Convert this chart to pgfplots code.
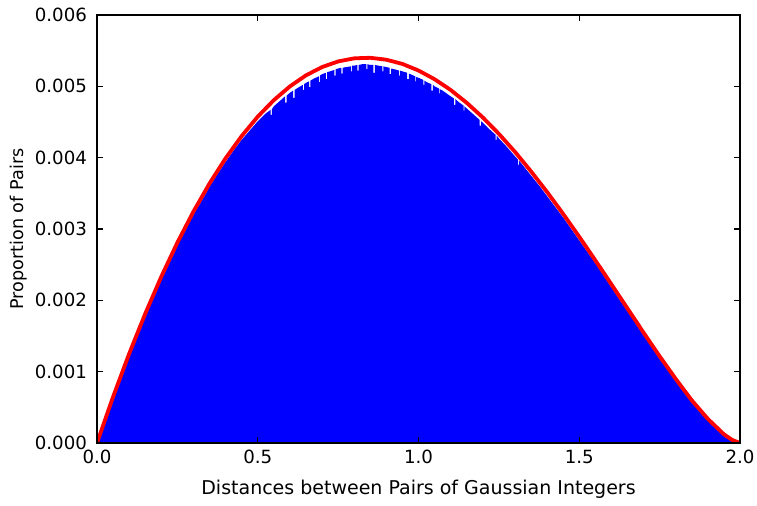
\documentclass[border=0pt]{standalone}
\usepackage{fontspec}
\setmainfont{DejaVu Sans}
\usepackage{pgfplots}
\pgfplotsset{compat=1.18}
\begin{document}
\begin{tikzpicture}
\begin{axis}[
  scale only axis, width=321.5pt, height=214pt,
  at={(0,0)}, anchor=south west,
  xmin=0, xmax=2, ymin=0, ymax=6,
  xtick={0,0.5,1,1.5,2}, xticklabels={0.0,0.5,1.0,1.5,2.0},
  ytick={0,1,2,3,4,5,6}, yticklabels={0.000,0.001,0.002,0.003,0.004,0.005,0.006},
  xtick pos=both, ytick pos=both, tick align=inside,
  major tick length=2.8pt,
  axis line style={line width=0.7pt, black},
  every tick/.style={line width=0.7pt, black},
  axis on top,
  tick label style={font=\fontsize{9.1}{10}\selectfont},
  yticklabel style={xshift=-1.5pt},
  label style={font=\fontsize{9.5}{11}\selectfont},
  xlabel style={yshift=-1pt},
  ylabel style={font=\fontsize{8.8}{10}\selectfont, at={(axis description cs:0,0.5)}, anchor=center, yshift=39pt},
  xlabel={Distances between Pairs of Gaussian Integers},
  ylabel={Proportion of Pairs},
]
\addplot[draw=none, fill={rgb,1:red,0;green,0;blue,1}] coordinates {
(0,0) (0.025,0.29) (0.05,0.61) (0.075,0.91) (0.1,1.21) (0.125,1.49) (0.15,1.77)
(0.175,2.03) (0.2,2.29) (0.225,2.53) (0.25,2.77) (0.275,2.98) (0.3,3.20)
(0.325,3.39) (0.35,3.59) (0.375,3.77) (0.4,3.94) (0.425,4.10) (0.45,4.25)
(0.475,4.38) (0.5,4.51) (0.525,4.62)
(0.54,4.67) (0.54,4.60) (0.544,4.60) (0.544,4.68)
(0.55,4.72) (0.575,4.82)
(0.585,4.86) (0.585,4.77) (0.59,4.77) (0.59,4.87)
(0.6,4.91)
(0.61,4.94) (0.61,4.84) (0.615,4.84) (0.615,4.95)
(0.625,4.98) (0.64,5.02) (0.64,4.95) (0.644,4.95) (0.644,5.03) (0.65,5.05)
(0.66,5.07) (0.66,4.99) (0.664,4.99) (0.664,5.08)
(0.675,5.11) (0.69,5.14) (0.69,5.06) (0.693,5.06) (0.693,5.15) (0.7,5.17)
(0.712,5.19) (0.712,5.10) (0.716,5.10) (0.716,5.20)
(0.725,5.21) (0.738,5.23) (0.738,5.15) (0.742,5.15) (0.742,5.24) (0.75,5.25)
(0.76,5.26) (0.76,5.18) (0.764,5.18) (0.764,5.26)
(0.775,5.27) (0.79,5.28) (0.79,5.21) (0.793,5.21) (0.793,5.29) (0.8,5.29)
(0.81,5.30) (0.81,5.22) (0.814,5.22) (0.814,5.30)
(0.825,5.31) (0.838,5.31) (0.838,5.24) (0.841,5.24) (0.841,5.31) (0.85,5.30)
(0.86,5.30) (0.86,5.19) (0.864,5.19) (0.864,5.30)
(0.875,5.29) (0.888,5.28) (0.888,5.21) (0.891,5.21) (0.891,5.28) (0.9,5.27)
(0.91,5.26) (0.91,5.17) (0.915,5.17) (0.915,5.25)
(0.925,5.24) (0.94,5.22) (0.94,5.15) (0.943,5.15) (0.943,5.22) (0.95,5.21)
(0.965,5.19) (0.965,5.10) (0.97,5.10) (0.97,5.18)
(0.975,5.17) (0.99,5.14) (0.99,5.07) (0.993,5.07) (0.993,5.13) (1.0,5.12)
(1.015,5.09) (1.015,5.02) (1.018,5.02) (1.018,5.08) (1.025,5.06)
(1.04,5.03) (1.04,4.94) (1.045,4.94) (1.045,5.02)
(1.05,5.00) (1.063,4.97) (1.063,4.90) (1.066,4.90) (1.066,4.96) (1.075,4.94) (1.1,4.86)
(1.11,4.83) (1.11,4.74) (1.115,4.74) (1.115,4.82)
(1.125,4.78) (1.14,4.73) (1.14,4.66) (1.143,4.66) (1.143,4.72) (1.15,4.69) (1.175,4.59)
(1.19,4.53) (1.19,4.45) (1.195,4.45) (1.195,4.51)
(1.2,4.49) (1.225,4.38) (1.24,4.32) (1.24,4.25) (1.243,4.25) (1.243,4.31) (1.25,4.27)
(1.275,4.15) (1.3,4.02) (1.31,3.97) (1.31,3.90) (1.313,3.90) (1.313,3.96) (1.325,3.89)
(1.35,3.75) (1.375,3.61) (1.4,3.46) (1.425,3.31) (1.45,3.16) (1.475,3.00)
(1.5,2.84) (1.525,2.68) (1.55,2.52) (1.575,2.35) (1.6,2.18) (1.625,2.01)
(1.65,1.85) (1.675,1.68) (1.7,1.51) (1.725,1.35) (1.75,1.18) (1.775,1.03)
(1.8,0.87) (1.825,0.72) (1.85,0.57) (1.875,0.44) (1.9,0.31) (1.925,0.21)
(1.95,0.10) (1.975,0.03) (2,0)
} \closedcycle;
\addplot[line width=1.9pt, color={rgb,1:red,1;green,0;blue,0}, line join=round] coordinates {
(0,0) (0.025,0.324) (0.05,0.647) (0.075,0.949) (0.1,1.251) (0.125,1.532)
(0.15,1.812) (0.175,2.072) (0.2,2.332) (0.225,2.571) (0.25,2.809) (0.275,3.027)
(0.3,3.244) (0.325,3.441) (0.35,3.638) (0.375,3.815) (0.4,3.991) (0.425,4.147)
(0.45,4.303) (0.475,4.439) (0.5,4.575) (0.525,4.691) (0.55,4.806) (0.575,4.903)
(0.6,4.999) (0.625,5.077) (0.65,5.154) (0.675,5.212) (0.7,5.270) (0.725,5.310)
(0.75,5.349) (0.775,5.371) (0.8,5.392) (0.825,5.397) (0.85,5.400) (0.875,5.387)
(0.9,5.373) (0.925,5.344) (0.95,5.314) (0.975,5.268) (1.0,5.222) (1.025,5.161)
(1.05,5.100) (1.075,5.025) (1.1,4.949) (1.125,4.859) (1.15,4.769) (1.175,4.667)
(1.2,4.564) (1.225,4.449) (1.25,4.334) (1.275,4.208) (1.3,4.082) (1.325,3.945)
(1.35,3.808) (1.375,3.663) (1.4,3.518) (1.425,3.365) (1.45,3.211) (1.475,3.051)
(1.5,2.891) (1.525,2.726) (1.55,2.561) (1.575,2.393) (1.6,2.224) (1.625,2.055)
(1.65,1.886) (1.675,1.717) (1.7,1.547) (1.725,1.382) (1.75,1.216) (1.775,1.058)
(1.8,0.899) (1.825,0.749) (1.85,0.598) (1.875,0.468) (1.9,0.338) (1.925,0.230)
(1.95,0.122) (1.975,0.045) (2,0)
};
\end{axis}
\pgfresetboundingbox
\path (-48.5pt,-31pt) rectangle (330pt,221.5pt);
\end{tikzpicture}
\end{document}
